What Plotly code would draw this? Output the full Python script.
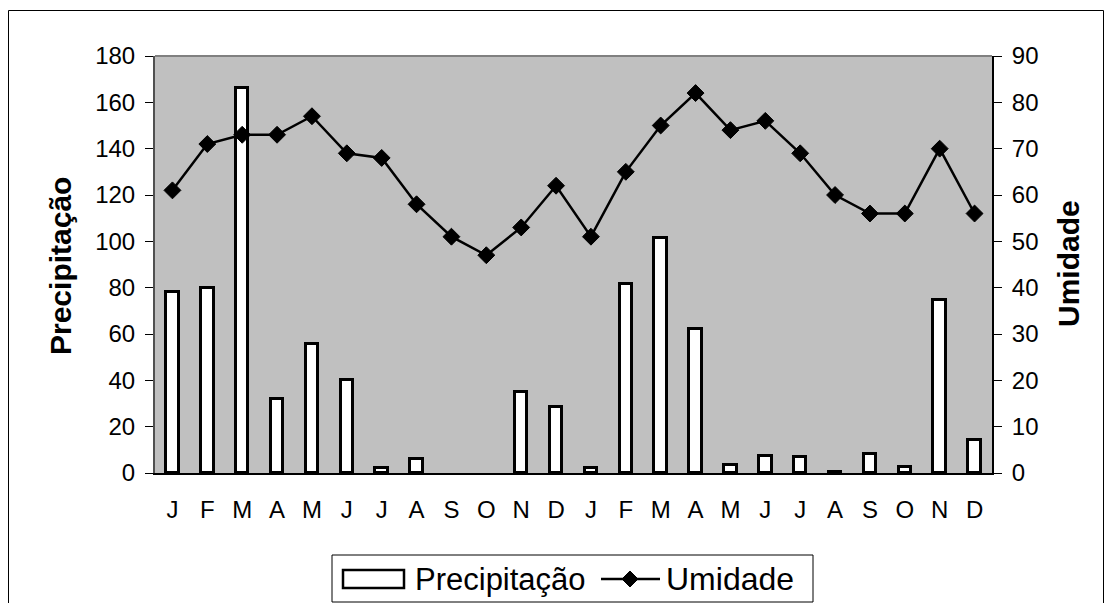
import plotly.graph_objects as go

# Monthly series over two years
months = ["J", "F", "M", "A", "M", "J", "J", "A", "S", "O", "N", "D",
          "J", "F", "M", "A", "M", "J", "J", "A", "S", "O", "N", "D"]
precipitacao = [78, 80, 166, 32, 55.5, 40, 2.3, 6, 0, 0, 35, 28.6,
                2.3, 81.7, 101.5, 62, 3.3, 7.5, 7, 0.3, 8, 2.7, 74.7, 14.2]
umidade = [61, 71, 73, 73, 77, 69, 68, 58, 51, 47, 53, 62,
           51, 65, 75, 82, 74, 76, 69, 60, 56, 56, 70, 56]

y_left_ticks = [0, 20, 40, 60, 80, 100, 120, 140, 160, 180]
y_right_ticks = [0, 10, 20, 30, 40, 50, 60, 70, 80, 90]

idx = list(range(len(months)))
boundaries = [i - 0.5 for i in range(len(months) + 1)]

FONT = "Arial, Liberation Sans, sans-serif"
W, H = 1112, 603
L, R, T, B = 155, 120, 56, 130
pw, ph = W - L - R, H - T - B


def px_x(p):
    return (p - L) / pw


def px_y(p):
    return (H - B - p) / ph


# months without rain get no outline at all
bar_outline = [3 if v > 0 else 0 for v in precipitacao]

fig = go.Figure()
fig.add_trace(go.Bar(
    x=idx, y=precipitacao, name="Precipitação", width=0.36,
    marker=dict(color="white", line=dict(color="black", width=bar_outline)),
    xaxis="x", yaxis="y", showlegend=False,
))
fig.add_trace(go.Scatter(
    x=idx, y=umidade, name="Umidade", mode="lines+markers",
    line=dict(color="black", width=2.5),
    marker=dict(symbol="diamond", size=13, color="black",
                line=dict(color="black", width=1)),
    xaxis="x", yaxis="y2", showlegend=False,
))

# legend box drawn by hand so the bar key can be a wide rectangle
leg_x0, leg_x1, leg_y0, leg_y1 = 332, 813, 555, 602
leg_cy = 579
dm = 8  # diamond half-size in px


def diamond_path(cx, cy, r):
    pts = [(cx, cy - r), (cx + r, cy), (cx, cy + r), (cx - r, cy)]
    return "M " + " L ".join(f"{px_x(a):.5f},{px_y(b):.5f}" for a, b in pts) + " Z"


shapes = [
    # top edge of the plotting area
    dict(type="line", xref="paper", yref="paper", x0=0, x1=1, y0=1, y1=1,
         line=dict(color="#808080", width=2)),
    # outer frame of the chart
    dict(type="rect", xref="paper", yref="paper",
         x0=px_x(8.5), x1=px_x(1103.5), y0=px_y(640), y1=px_y(10.5),
         line=dict(color="black", width=1)),
    # legend frame
    dict(type="rect", xref="paper", yref="paper",
         x0=px_x(leg_x0), x1=px_x(leg_x1), y0=px_y(leg_y1), y1=px_y(leg_y0),
         line=dict(color="black", width=1), fillcolor="white"),
    # bar key
    dict(type="rect", xref="paper", yref="paper",
         x0=px_x(343), x1=px_x(404), y0=px_y(588), y1=px_y(570),
         line=dict(color="black", width=2.5), fillcolor="white"),
    # line key
    dict(type="line", xref="paper", yref="paper",
         x0=px_x(601), x1=px_x(660), y0=px_y(leg_cy), y1=px_y(leg_cy),
         line=dict(color="black", width=2.5)),
    dict(type="path", xref="paper", yref="paper",
         path=diamond_path(630, leg_cy, dm),
         line=dict(color="black", width=1), fillcolor="black"),
]

fig.update_layout(
    width=W, height=H,
    margin=dict(l=L, r=R, t=T, b=B, autoexpand=False),
    paper_bgcolor="white", plot_bgcolor="#c0c0c0",
    font=dict(family=FONT, size=24, color="black"),
    bargap=0,
    showlegend=False,
    xaxis=dict(
        range=[-0.5, len(months) - 0.5], tickvals=idx, ticktext=months,
        ticks="outside", ticklen=14, tickcolor="rgba(0,0,0,0)",
        showgrid=False, zeroline=False, showline=True,
        linecolor="black", linewidth=2, automargin=False,
        tickfont=dict(size=24),
    ),
    xaxis2=dict(
        overlaying="x", anchor="y", side="bottom",
        range=[-0.5, len(months) - 0.5], tickvals=boundaries,
        showticklabels=False, ticks="outside", ticklen=7,
        tickcolor="#202020", tickwidth=1.5, showgrid=False, zeroline=False,
    ),
    xaxis3=dict(
        overlaying="x", anchor="y", side="bottom",
        range=[-0.5, len(months) - 0.5], tickvals=boundaries,
        showticklabels=False, ticks="inside", ticklen=5,
        tickcolor="#202020", tickwidth=1.5, showgrid=False, zeroline=False,
    ),
    yaxis=dict(
        range=[0, 180], tickvals=y_left_ticks,
        ticks="outside", ticklen=8, tickcolor="black",
        ticklabelstandoff=5, automargin=False,
        showgrid=False, zeroline=False, showline=True,
        linecolor="#505050", linewidth=2, tickfont=dict(size=24),
    ),
    yaxis2=dict(
        range=[0, 90], tickvals=y_right_ticks, overlaying="y", side="right",
        ticks="outside", ticklen=8, tickcolor="black",
        ticklabelstandoff=5, automargin=False,
        showgrid=False, zeroline=False, showline=True,
        linecolor="black", linewidth=2, tickfont=dict(size=24),
    ),
    annotations=[
        dict(text="<b>Precipitação</b>", textangle=-90, showarrow=False,
             xref="paper", yref="paper", x=px_x(60), y=px_y(266),
             xanchor="center", yanchor="middle", font=dict(size=30)),
        dict(text="<b>Umidade</b>", textangle=-90, showarrow=False,
             xref="paper", yref="paper", x=px_x(1068), y=px_y(264),
             xanchor="center", yanchor="middle", font=dict(size=30)),
        dict(text="Precipitação", showarrow=False,
             xref="paper", yref="paper", x=px_x(413), y=px_y(leg_cy),
             xanchor="left", yanchor="middle", font=dict(size=31)),
        dict(text="Umidade", showarrow=False,
             xref="paper", yref="paper", x=px_x(664), y=px_y(leg_cy),
             xanchor="left", yanchor="middle", font=dict(size=32)),
    ],
    shapes=shapes,
)

fig.write_html("out.html")
